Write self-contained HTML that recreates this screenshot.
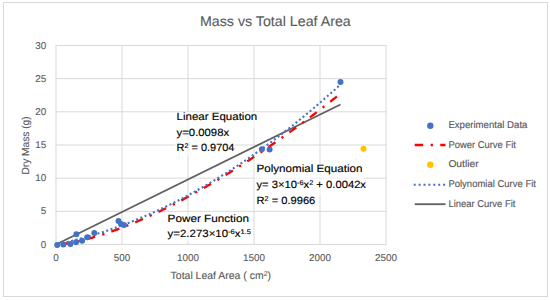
<!DOCTYPE html><html><head><meta charset="utf-8"><style>html,body{margin:0;padding:0;background:#fff;}svg{display:block;}text{font-family:"Liberation Sans",sans-serif;text-rendering:geometricPrecision;}</style></head><body>
<svg width="550" height="300" viewBox="0 0 550 300">
<rect x="0" y="0" width="550" height="300" fill="#fff"/>
<rect x="3.5" y="2.5" width="544" height="294" fill="none" stroke="#d9d9d9" stroke-width="1"/>
<path d="M55.5,244.50H386.5 M55.5,211.33H386.5 M55.5,178.17H386.5 M55.5,145.00H386.5 M55.5,111.83H386.5 M55.5,78.67H386.5 M55.5,45.50H386.5 M56.00,45.50V244.5 M122.00,45.50V244.5 M188.00,45.50V244.5 M254.00,45.50V244.5 M320.00,45.50V244.5 M386.00,45.50V244.5" stroke="#d9d9d9" stroke-width="1" fill="none"/>
<text x="200" y="26" font-size="14.1" fill="#595959" stroke="#595959" stroke-width="0.1" textLength="150.7" lengthAdjust="spacingAndGlyphs">Mass vs Total Leaf Area</text>
<text x="46.3" y="247.55" font-size="9.9" fill="#595959" stroke="#595959" stroke-width="0.1" text-anchor="end">0</text>
<text x="46.3" y="214.38" font-size="9.9" fill="#595959" stroke="#595959" stroke-width="0.1" text-anchor="end">5</text>
<text x="46.3" y="181.22" font-size="9.9" fill="#595959" stroke="#595959" stroke-width="0.1" text-anchor="end">10</text>
<text x="46.3" y="148.05" font-size="9.9" fill="#595959" stroke="#595959" stroke-width="0.1" text-anchor="end">15</text>
<text x="46.3" y="114.88" font-size="9.9" fill="#595959" stroke="#595959" stroke-width="0.1" text-anchor="end">20</text>
<text x="46.3" y="81.72" font-size="9.9" fill="#595959" stroke="#595959" stroke-width="0.1" text-anchor="end">25</text>
<text x="46.3" y="48.55" font-size="9.9" fill="#595959" stroke="#595959" stroke-width="0.1" text-anchor="end">30</text>
<text x="56.0" y="261.1" font-size="9.9" fill="#595959" stroke="#595959" stroke-width="0.1" text-anchor="middle">0</text>
<text x="122.0" y="261.1" font-size="9.9" fill="#595959" stroke="#595959" stroke-width="0.1" text-anchor="middle">500</text>
<text x="188.0" y="261.1" font-size="9.9" fill="#595959" stroke="#595959" stroke-width="0.1" text-anchor="middle">1000</text>
<text x="254.0" y="261.1" font-size="9.9" fill="#595959" stroke="#595959" stroke-width="0.1" text-anchor="middle">1500</text>
<text x="320.0" y="261.1" font-size="9.9" fill="#595959" stroke="#595959" stroke-width="0.1" text-anchor="middle">2000</text>
<text x="386.0" y="261.1" font-size="9.9" fill="#595959" stroke="#595959" stroke-width="0.1" text-anchor="middle">2500</text>
<text x="170.6" y="278.7" font-size="10.5" fill="#595959" stroke="#595959" stroke-width="0.1" textLength="100.4" lengthAdjust="spacingAndGlyphs">Total Leaf Area ( cm<tspan font-size="6.83" dy="-2.73">2</tspan><tspan dy="2.73">)</tspan></text>
<g transform="translate(29,174.6) rotate(-90)">
<text x="0" y="0" font-size="10.3" fill="#595959" stroke="#595959" stroke-width="0.1" textLength="58.2" lengthAdjust="spacingAndGlyphs">Dry Mass (g)</text>
</g>
<path d="M56.00,244.50 L340.50,104.39" stroke="#606060" stroke-width="1.7" fill="none"/>
<path d="M56.00,244.50 L57.43,244.45 L58.86,244.35 L60.29,244.22 L61.72,244.07 L63.15,243.90 L64.58,243.71 L66.01,243.50 L67.44,243.28 L68.87,243.05 L70.30,242.80 L71.73,242.54 L73.16,242.27 L74.59,241.98 L76.02,241.68 L77.44,241.38 L78.87,241.06 L80.30,240.73 L81.73,240.40 L83.16,240.05 L84.59,239.69 L86.02,239.33 L87.45,238.95 L88.88,238.57 L90.31,238.18 L91.74,237.78 L93.17,237.38 L94.60,236.96 L96.03,236.54 L97.46,236.11 L98.89,235.67 L100.32,235.22 L101.75,234.77 L103.18,234.31 L104.61,233.85 L106.04,233.37 L107.47,232.89 L108.90,232.40 L110.33,231.91 L111.76,231.41 L113.19,230.90 L114.62,230.39 L116.05,229.87 L117.47,229.35 L118.90,228.81 L120.33,228.28 L121.76,227.73 L123.19,227.18 L124.62,226.63 L126.05,226.07 L127.48,225.50 L128.91,224.93 L130.34,224.35 L131.77,223.76 L133.20,223.17 L134.63,222.58 L136.06,221.98 L137.49,221.37 L138.92,220.76 L140.35,220.14 L141.78,219.52 L143.21,218.90 L144.64,218.26 L146.07,217.63 L147.50,216.98 L148.93,216.34 L150.36,215.68 L151.79,215.03 L153.22,214.36 L154.65,213.70 L156.08,213.03 L157.51,212.35 L158.93,211.67 L160.36,210.98 L161.79,210.29 L163.22,209.59 L164.65,208.89 L166.08,208.19 L167.51,207.48 L168.94,206.76 L170.37,206.05 L171.80,205.32 L173.23,204.59 L174.66,203.86 L176.09,203.13 L177.52,202.38 L178.95,201.64 L180.38,200.89 L181.81,200.14 L183.24,199.38 L184.67,198.61 L186.10,197.85 L187.53,197.08 L188.96,196.30 L190.39,195.52 L191.82,194.74 L193.25,193.95 L194.68,193.16 L196.11,192.36 L197.54,191.56 L198.96,190.76 L200.39,189.95 L201.82,189.14 L203.25,188.32 L204.68,187.50 L206.11,186.68 L207.54,185.85 L208.97,185.02 L210.40,184.18 L211.83,183.34 L213.26,182.50 L214.69,181.65 L216.12,180.80 L217.55,179.94 L218.98,179.09 L220.41,178.22 L221.84,177.36 L223.27,176.49 L224.70,175.61 L226.13,174.74 L227.56,173.85 L228.99,172.97 L230.42,172.08 L231.85,171.19 L233.28,170.29 L234.71,169.39 L236.14,168.49 L237.57,167.58 L238.99,166.67 L240.42,165.76 L241.85,164.84 L243.28,163.92 L244.71,163.00 L246.14,162.07 L247.57,161.14 L249.00,160.20 L250.43,159.26 L251.86,158.32 L253.29,157.38 L254.72,156.43 L256.15,155.48 L257.58,154.52 L259.01,153.56 L260.44,152.60 L261.87,151.63 L263.30,150.66 L264.73,149.69 L266.16,148.72 L267.59,147.74 L269.02,146.76 L270.45,145.77 L271.88,144.78 L273.31,143.79 L274.74,142.79 L276.17,141.79 L277.60,140.79 L279.03,139.79 L280.45,138.78 L281.88,137.77 L283.31,136.75 L284.74,135.73 L286.17,134.71 L287.60,133.69 L289.03,132.66 L290.46,131.63 L291.89,130.60 L293.32,129.56 L294.75,128.52 L296.18,127.48 L297.61,126.43 L299.04,125.38 L300.47,124.33 L301.90,123.27 L303.33,122.21 L304.76,121.15 L306.19,120.09 L307.62,119.02 L309.05,117.95 L310.48,116.87 L311.91,115.80 L313.34,114.72 L314.77,113.63 L316.20,112.55 L317.63,111.46 L319.06,110.37 L320.48,109.27 L321.91,108.17 L323.34,107.07 L324.77,105.97 L326.20,104.86 L327.63,103.75 L329.06,102.64 L330.49,101.52 L331.92,100.40 L333.35,99.28 L334.78,98.16 L336.21,97.03 L337.64,95.90 L339.07,94.77 L340.50,93.63" stroke="#ff0000" stroke-width="2.3" fill="none" stroke-dasharray="8.5 7.4 2.3 7.35" stroke-dashoffset="-5.9"/>
<path d="M56.00,244.50 L57.43,244.20 L58.86,243.89 L60.29,243.58 L61.72,243.27 L63.15,242.95 L64.58,242.62 L66.01,242.29 L67.44,241.96 L68.87,241.62 L70.30,241.27 L71.73,240.92 L73.16,240.56 L74.59,240.20 L76.02,239.84 L77.44,239.46 L78.87,239.09 L80.30,238.71 L81.73,238.32 L83.16,237.93 L84.59,237.53 L86.02,237.13 L87.45,236.72 L88.88,236.31 L90.31,235.89 L91.74,235.47 L93.17,235.04 L94.60,234.61 L96.03,234.17 L97.46,233.73 L98.89,233.28 L100.32,232.83 L101.75,232.37 L103.18,231.91 L104.61,231.44 L106.04,230.97 L107.47,230.49 L108.90,230.01 L110.33,229.52 L111.76,229.02 L113.19,228.52 L114.62,228.02 L116.05,227.51 L117.47,227.00 L118.90,226.48 L120.33,225.96 L121.76,225.43 L123.19,224.89 L124.62,224.35 L126.05,223.81 L127.48,223.26 L128.91,222.70 L130.34,222.14 L131.77,221.58 L133.20,221.01 L134.63,220.43 L136.06,219.85 L137.49,219.27 L138.92,218.68 L140.35,218.08 L141.78,217.48 L143.21,216.88 L144.64,216.27 L146.07,215.65 L147.50,215.03 L148.93,214.40 L150.36,213.77 L151.79,213.14 L153.22,212.49 L154.65,211.85 L156.08,211.20 L157.51,210.54 L158.93,209.88 L160.36,209.21 L161.79,208.54 L163.22,207.86 L164.65,207.18 L166.08,206.49 L167.51,205.80 L168.94,205.10 L170.37,204.40 L171.80,203.69 L173.23,202.98 L174.66,202.26 L176.09,201.54 L177.52,200.81 L178.95,200.08 L180.38,199.34 L181.81,198.60 L183.24,197.85 L184.67,197.10 L186.10,196.34 L187.53,195.58 L188.96,194.81 L190.39,194.03 L191.82,193.25 L193.25,192.47 L194.68,191.68 L196.11,190.89 L197.54,190.09 L198.96,189.28 L200.39,188.48 L201.82,187.66 L203.25,186.84 L204.68,186.02 L206.11,185.19 L207.54,184.35 L208.97,183.51 L210.40,182.67 L211.83,181.82 L213.26,180.96 L214.69,180.10 L216.12,179.24 L217.55,178.37 L218.98,177.49 L220.41,176.61 L221.84,175.72 L223.27,174.83 L224.70,173.94 L226.13,173.04 L227.56,172.13 L228.99,171.22 L230.42,170.30 L231.85,169.38 L233.28,168.46 L234.71,167.52 L236.14,166.59 L237.57,165.65 L238.99,164.70 L240.42,163.75 L241.85,162.79 L243.28,161.83 L244.71,160.86 L246.14,159.89 L247.57,158.91 L249.00,157.93 L250.43,156.94 L251.86,155.95 L253.29,154.95 L254.72,153.95 L256.15,152.94 L257.58,151.93 L259.01,150.91 L260.44,149.88 L261.87,148.86 L263.30,147.82 L264.73,146.78 L266.16,145.74 L267.59,144.69 L269.02,143.64 L270.45,142.58 L271.88,141.52 L273.31,140.45 L274.74,139.37 L276.17,138.29 L277.60,137.21 L279.03,136.12 L280.45,135.02 L281.88,133.93 L283.31,132.82 L284.74,131.71 L286.17,130.60 L287.60,129.48 L289.03,128.35 L290.46,127.22 L291.89,126.09 L293.32,124.95 L294.75,123.80 L296.18,122.65 L297.61,121.49 L299.04,120.33 L300.47,119.17 L301.90,118.00 L303.33,116.82 L304.76,115.64 L306.19,114.45 L307.62,113.26 L309.05,112.07 L310.48,110.86 L311.91,109.66 L313.34,108.45 L314.77,107.23 L316.20,106.01 L317.63,104.78 L319.06,103.55 L320.48,102.31 L321.91,101.07 L323.34,99.82 L324.77,98.57 L326.20,97.31 L327.63,96.05 L329.06,94.78 L330.49,93.51 L331.92,92.23 L333.35,90.95 L334.78,89.66 L336.21,88.37 L337.64,87.07 L339.07,85.77 L340.50,84.46" stroke="#4472c4" stroke-width="2.1" fill="none" stroke-dasharray="2.0 2.565" stroke-dashoffset="-1.83"/>
<circle cx="57.2" cy="245" r="3.0" fill="#4472c4"/>
<circle cx="63.3" cy="244.6" r="3.0" fill="#4472c4"/>
<circle cx="70.3" cy="244" r="3.0" fill="#4472c4"/>
<circle cx="76.4" cy="234.3" r="3.0" fill="#4472c4"/>
<circle cx="76" cy="242.2" r="3.0" fill="#4472c4"/>
<circle cx="82.1" cy="240.8" r="3.0" fill="#4472c4"/>
<circle cx="87.3" cy="237.2" r="3.0" fill="#4472c4"/>
<circle cx="94.3" cy="233" r="3.0" fill="#4472c4"/>
<circle cx="118.5" cy="221" r="3.0" fill="#4472c4"/>
<circle cx="121" cy="224" r="3.0" fill="#4472c4"/>
<circle cx="124" cy="225" r="3.0" fill="#4472c4"/>
<circle cx="261.9" cy="149.3" r="3.0" fill="#4472c4"/>
<circle cx="269.6" cy="149.6" r="3.0" fill="#4472c4"/>
<circle cx="340.5" cy="82" r="3.0" fill="#4472c4"/>
<circle cx="363.5" cy="148.7" r="3.0" fill="#ffc000"/>
<rect x="174.6" y="111.90" width="84.10" height="16.00" fill="#fff" fill-opacity="0.6"/>
<rect x="174.6" y="127.90" width="56.00" height="14.90" fill="#fff" fill-opacity="0.6"/>
<rect x="174.6" y="142.80" width="61.30" height="12.40" fill="#fff" fill-opacity="0.6"/>
<text x="176.6" y="119.9" font-size="10.5" fill="#000" stroke="#000" stroke-width="0.15" textLength="80.6" lengthAdjust="spacingAndGlyphs">Linear Equation</text>
<text x="176.6" y="135.9" font-size="10.5" fill="#000" stroke="#000" stroke-width="0.15" textLength="52.5" lengthAdjust="spacingAndGlyphs">y=0.0098x</text>
<text x="176.6" y="150.8" font-size="10.5" fill="#000" stroke="#000" stroke-width="0.15" textLength="57.8" lengthAdjust="spacingAndGlyphs">R<tspan font-size="6.83" dy="-2.73">2</tspan><tspan dy="2.73"> = 0.9704</tspan></text>
<rect x="254.5" y="164.20" width="109.50" height="16.00" fill="#fff" fill-opacity="0.6"/>
<rect x="254.5" y="180.20" width="113.00" height="15.40" fill="#fff" fill-opacity="0.6"/>
<rect x="254.5" y="195.60" width="62.30" height="12.40" fill="#fff" fill-opacity="0.6"/>
<text x="256.5" y="172.2" font-size="10.5" fill="#000" stroke="#000" stroke-width="0.15" textLength="106" lengthAdjust="spacingAndGlyphs">Polynomial Equation</text>
<text x="256.5" y="188.2" font-size="10.5" fill="#000" stroke="#000" stroke-width="0.15" textLength="109.5" lengthAdjust="spacingAndGlyphs">y= 3×10<tspan font-size="6.83" dy="-2.73">-6</tspan><tspan dy="2.73">x</tspan><tspan font-size="6.83" dy="-2.73">2</tspan><tspan dy="2.73"> + 0.0042x</tspan></text>
<text x="256.5" y="203.6" font-size="10.5" fill="#000" stroke="#000" stroke-width="0.15" textLength="58.8" lengthAdjust="spacingAndGlyphs">R<tspan font-size="6.83" dy="-2.73">2</tspan><tspan dy="2.73"> = 0.9966</tspan></text>
<rect x="165.6" y="214.20" width="84.90" height="14.90" fill="#fff" fill-opacity="0.6"/>
<rect x="165.6" y="229.10" width="86.70" height="12.40" fill="#fff" fill-opacity="0.6"/>
<text x="167.6" y="222.2" font-size="10.5" fill="#000" stroke="#000" stroke-width="0.15" textLength="81.4" lengthAdjust="spacingAndGlyphs">Power Function</text>
<text x="167.6" y="237.1" font-size="10.5" fill="#000" stroke="#000" stroke-width="0.15" textLength="83.2" lengthAdjust="spacingAndGlyphs">y=2.273×10<tspan font-size="6.83" dy="-2.73">-6</tspan><tspan dy="2.73">x</tspan><tspan font-size="6.83" dy="-2.73">1.5</tspan></text>
<circle cx="430.3" cy="125.8" r="3.2" fill="#4472c4"/>
<path d="M414.7,145H445.5" stroke="#ff0000" stroke-width="2.3" stroke-dasharray="8.5 7.4 2.3 7.35"/>
<circle cx="430.3" cy="164.7" r="3.2" fill="#ffc000"/>
<path d="M413.7,184.7H445.5" stroke="#4472c4" stroke-width="2.1" stroke-dasharray="2 2.9"/>
<path d="M414.7,204.2H445.5" stroke="#606060" stroke-width="1.8"/>
<text x="448.4" y="128.0" font-size="9.9" fill="#595959" stroke="#595959" stroke-width="0.15" textLength="79" lengthAdjust="spacingAndGlyphs">Experimental Data</text>
<text x="448.4" y="147.7" font-size="9.9" fill="#595959" stroke="#595959" stroke-width="0.15" textLength="67.5" lengthAdjust="spacingAndGlyphs">Power Curve Fit</text>
<text x="448.4" y="167.4" font-size="9.9" fill="#595959" stroke="#595959" stroke-width="0.15" textLength="30.2" lengthAdjust="spacingAndGlyphs">Outlier</text>
<text x="448.4" y="187.0" font-size="9.9" fill="#595959" stroke="#595959" stroke-width="0.15" textLength="87.6" lengthAdjust="spacingAndGlyphs">Polynomial Curve Fit</text>
<text x="448.4" y="206.6" font-size="9.9" fill="#595959" stroke="#595959" stroke-width="0.15" textLength="67" lengthAdjust="spacingAndGlyphs">Linear Curve Fit</text>
</svg></body></html>
